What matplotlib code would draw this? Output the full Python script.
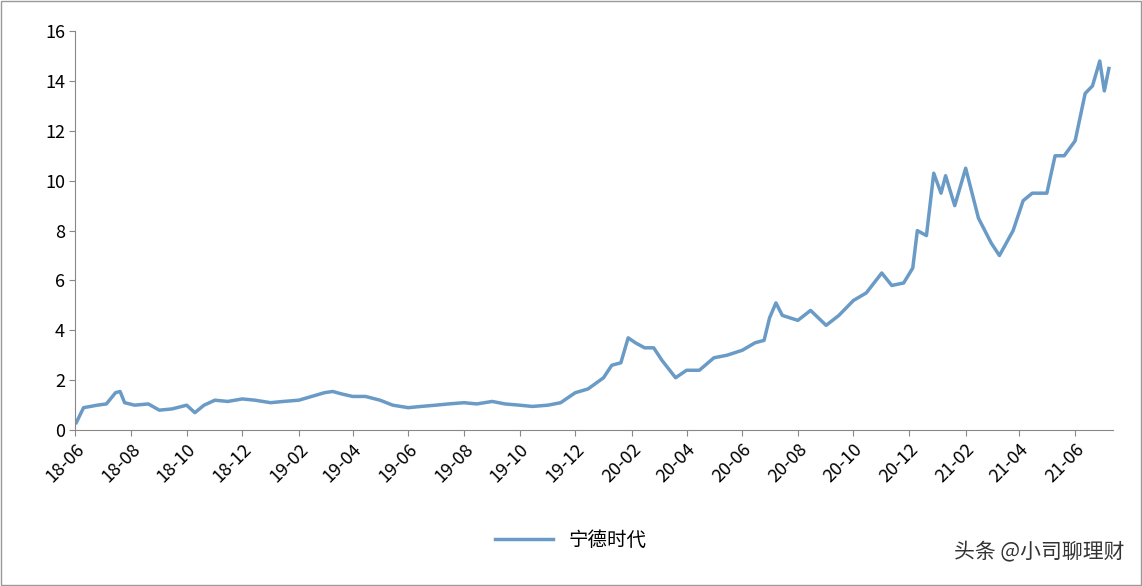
import matplotlib
matplotlib.use('Agg')
import matplotlib.pyplot as plt
import pandas as pd

plt.rcParams['font.family'] = ['Noto Sans CJK SC', 'DejaVu Sans']

dates = ['2018-06-02', '2018-06-10', '2018-06-25', '2018-07-05', '2018-07-15', '2018-07-20', '2018-07-25',
         '2018-08-05', '2018-08-20', '2018-09-01', '2018-09-15', '2018-10-01', '2018-10-10', '2018-10-20',
         '2018-11-01', '2018-11-15', '2018-12-01', '2018-12-15', '2019-01-01', '2019-01-15', '2019-02-01',
         '2019-02-15', '2019-03-01', '2019-03-10', '2019-03-20', '2019-04-01', '2019-04-15', '2019-05-01',
         '2019-05-15', '2019-06-01', '2019-06-15', '2019-07-01', '2019-07-15', '2019-08-01', '2019-08-15',
         '2019-09-01', '2019-09-15', '2019-10-01', '2019-10-15', '2019-11-01', '2019-11-15', '2019-12-01',
         '2019-12-15', '2020-01-01', '2020-01-10', '2020-01-20', '2020-01-28', '2020-02-05', '2020-02-15',
         '2020-02-25', '2020-03-05', '2020-03-20', '2020-04-01', '2020-04-15', '2020-05-01', '2020-05-15',
         '2020-06-01', '2020-06-15', '2020-06-25', '2020-07-01', '2020-07-08', '2020-07-15', '2020-08-01',
         '2020-08-15', '2020-09-01', '2020-09-15', '2020-10-01', '2020-10-15', '2020-11-01', '2020-11-12',
         '2020-11-25', '2020-12-05', '2020-12-10', '2020-12-20', '2020-12-28', '2021-01-05', '2021-01-10',
         '2021-01-20', '2021-02-01', '2021-02-15', '2021-03-01', '2021-03-10', '2021-03-25', '2021-04-05',
         '2021-04-15', '2021-05-01', '2021-05-10', '2021-05-20', '2021-06-01', '2021-06-12', '2021-06-20',
         '2021-06-28', '2021-07-03', '2021-07-08']
values = [0.3, 0.9, 1.0, 1.05, 1.5, 1.55, 1.1,
          1.0, 1.05, 0.8, 0.85, 1.0, 0.7, 1.0,
          1.2, 1.15, 1.25, 1.2, 1.1, 1.15, 1.2,
          1.35, 1.5, 1.55, 1.45, 1.35, 1.35, 1.2,
          1.0, 0.9, 0.95, 1.0, 1.05, 1.1, 1.05,
          1.15, 1.05, 1.0, 0.95, 1.0, 1.1, 1.5,
          1.65, 2.1, 2.6, 2.7, 3.7, 3.5, 3.3,
          3.3, 2.8, 2.1, 2.4, 2.4, 2.9, 3.0,
          3.2, 3.5, 3.6, 4.5, 5.1, 4.6, 4.4,
          4.8, 4.2, 4.6, 5.2, 5.5, 6.3, 5.8,
          5.9, 6.5, 8.0, 7.8, 10.3, 9.5, 10.2,
          9.0, 10.5, 8.5, 7.5, 7.0, 8.0, 9.2,
          9.5, 9.5, 11.0, 11.0, 11.6, 13.5, 13.8,
          14.8, 13.6, 14.5]
tick_labels = ['18-06', '18-08', '18-10', '18-12', '19-02', '19-04', '19-06', '19-08', '19-10',
               '19-12', '20-02', '20-04', '20-06', '20-08', '20-10', '20-12', '21-02', '21-04', '21-06']

x = pd.to_datetime(dates)
color = '#6a9bc6'

fig = plt.figure(figsize=(11.42, 5.86), dpi=100)
ax = fig.add_axes([0.066, 0.266, 0.909, 0.681])
ax.plot(x, values, color=color, lw=2.5, label='宁德时代')
ax.set_ylim(0, 16)
ax.set_yticks(range(0, 17, 2))
ax.set_xlim(pd.Timestamp('2018-06-01'), pd.Timestamp('2021-07-13'))
ticks = pd.date_range('2018-06-01', periods=len(tick_labels), freq='2MS')
ax.set_xticks(ticks)
ax.set_xticklabels(tick_labels, rotation=45, ha='right', rotation_mode='anchor')
ax.tick_params(labelsize=13, direction='out', length=4, color='#888888')
for s in ['top', 'right']:
    ax.spines[s].set_visible(False)
for s in ['left', 'bottom']:
    ax.spines[s].set_color('#888888')
fig.legend(loc='lower center', bbox_to_anchor=(0.5, 0.03), frameon=False, fontsize=14,
           handlelength=3)
fig.text(0.985, 0.04, '头条 @小司聊理财', ha='right', va='bottom', fontsize=15, color='#333333')
fig.patches.append(plt.Rectangle((0.001, 0.001), 0.998, 0.998, transform=fig.transFigure,
                                 fill=False, edgecolor='#999999', lw=1))
fig.savefig('out.png')
